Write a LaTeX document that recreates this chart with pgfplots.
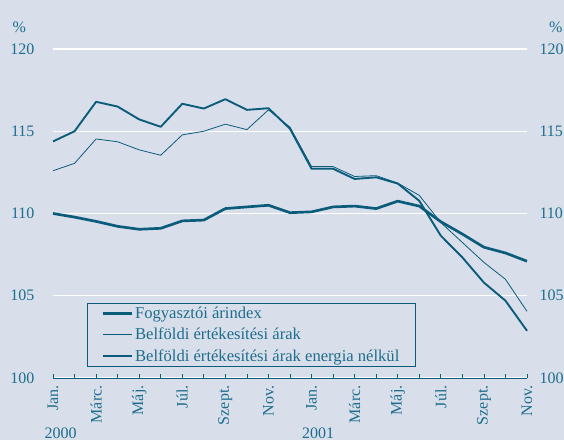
\documentclass[border=0pt]{standalone}
\usepackage{pgfplots}
\pgfplotsset{compat=1.18}
\usepackage{fontspec}
\setmainfont{Liberation Serif}
\definecolor{bg}{HTML}{D8DFEA}
\definecolor{ln}{HTML}{0B5B7A}
\definecolor{tx}{HTML}{1E6D8C}
\begin{document}
\begin{tikzpicture}[font=\fontsize{16bp}{18bp}\selectfont, text=tx]
\useasboundingbox (0,0) rectangle (564bp,440bp);
\fill[bg] (0,0) rectangle (564bp,440bp);
\begin{axis}[
  at={(53bp,62bp)}, anchor=south west,
  scale only axis, width=474bp, height=329bp,
  xmin=0, xmax=22, ymin=100, ymax=120,
  /pgf/number format/assume math mode=true,
  axis line style={draw=none},
  axis x line*=bottom,
  ytick={100,105,110,115,120},
  ytick style={draw=none},
  yticklabel style={anchor=east, xshift=-15bp, text=tx},
  ymajorgrids, grid style={white, line width=1.4pt},
  xtick={0,...,22},
  xticklabels={Jan.,,Márc.,,Máj.,,Júl.,,Szept.,,Nov.,,Jan.,,Márc.,,Máj.,,Júl.,,Szept.,,Nov.},
  xticklabel style={rotate=90, anchor=east, text=tx},
  xticklabel shift={4bp},
  xtick style={draw=ln, line width=0.8pt},
  tick align=inside, major tick length=3.5bp,
  clip=false,
  legend style={at={(0.0717,0.0334)}, anchor=south west, draw=ln, fill=bg, line width=0.8pt,
    inner xsep=14bp, inner ysep=2bp, row sep=4bp, font=\fontsize{16.6bp}{18bp}\selectfont, text=tx},
  legend cell align=left,
  legend image code/.code={\draw[#1] (0bp,0bp) -- (29bp,0bp);},
]
\draw[ln, line width=0.9pt] (axis cs:0,100) -- (axis cs:22,100);
\addplot[ln, line width=2.7pt, line join=round] coordinates {
(0,110.0)(1,109.78)(2,109.52)(3,109.22)(4,109.04)(5,109.1)(6,109.55)(7,109.6)(8,110.3)(9,110.4)(10,110.5)(11,110.05)
(12,110.1)(13,110.4)(14,110.45)(15,110.3)(16,110.75)(17,110.45)(18,109.5)(19,108.75)(20,107.95)(21,107.6)(22,107.1)};
\addlegendentry{Fogyasztói árindex}
\addplot[ln, line width=0.8pt, line join=round] coordinates {
(0,112.6)(1,113.05)(2,114.53)(3,114.36)(4,113.87)(5,113.54)(6,114.78)(7,115.0)(8,115.43)(9,115.1)(10,116.3)(11,115.25)
(12,112.85)(13,112.85)(14,112.25)(15,112.3)(16,111.85)(17,111.1)(18,109.45)(19,108.24)(20,107.03)(21,106.0)(22,104.05)};
\addlegendentry{Belföldi értékesítési árak}
\addplot[ln, line width=1.9pt, line join=round] coordinates {
(0,114.38)(1,115.0)(2,116.79)(3,116.5)(4,115.72)(5,115.27)(6,116.67)(7,116.38)(8,116.95)(9,116.3)(10,116.4)(11,115.15)
(12,112.72)(13,112.72)(14,112.1)(15,112.2)(16,111.82)(17,110.77)(18,108.65)(19,107.33)(20,105.8)(21,104.7)(22,102.87)};
\addlegendentry{Belföldi értékesítési árak energia nélkül}
\node[anchor=base, inner sep=0pt] at (axis cs:0.35,100) [yshift=-60bp] {2000};
\node[anchor=base, inner sep=0pt] at (axis cs:12.3,100) [yshift=-60bp] {2001};
\node[anchor=base west] at (axis cs:0,120) [xshift=-44bp, yshift=16bp] {\%};
\node[anchor=base east] at (axis cs:22,120) [xshift=39bp, yshift=16bp] {\%};
\end{axis}
\begin{axis}[
  at={(53bp,62bp)}, anchor=south west,
  scale only axis, width=474bp, height=329bp,
  xmin=0, xmax=22, ymin=100, ymax=120,
  /pgf/number format/assume math mode=true,
  hide x axis, axis y line*=right,
  y axis line style={draw=none},
  ytick={100,105,110,115,120}, ytick style={draw=none},
  yticklabel style={anchor=west, xshift=9bp, text=tx},
]
\addplot[draw=none] coordinates {(0,100)};
\end{axis}
\end{tikzpicture}
\end{document}
